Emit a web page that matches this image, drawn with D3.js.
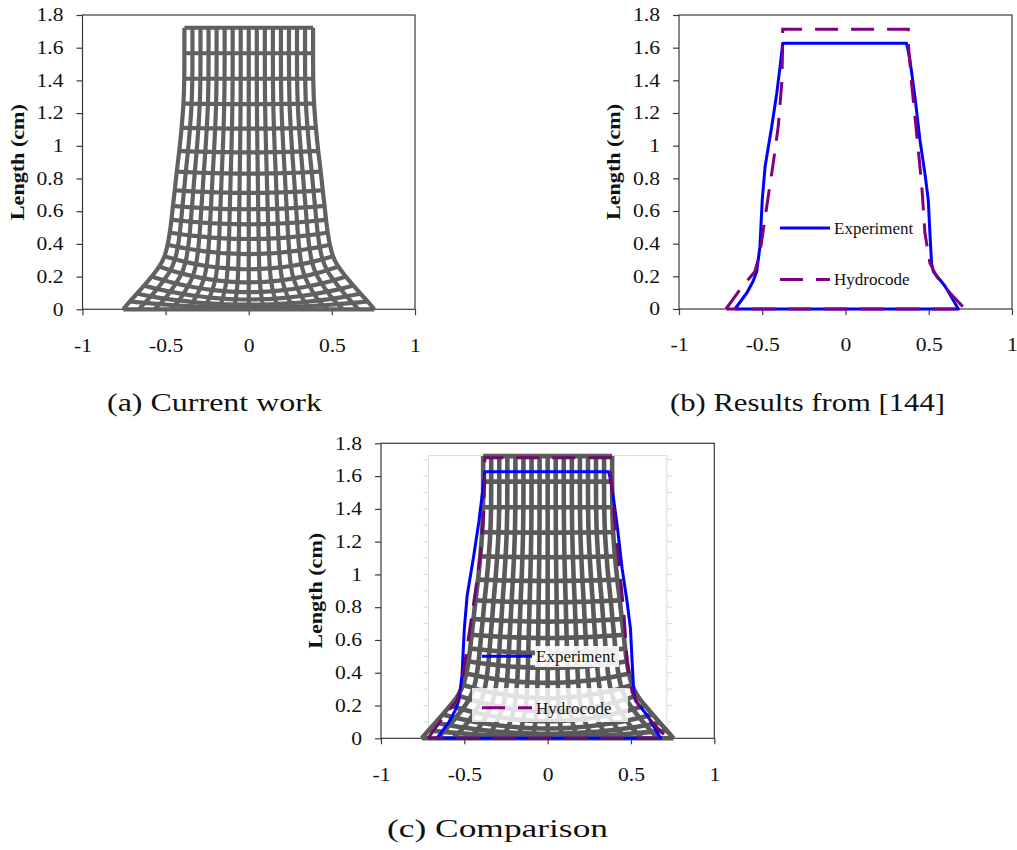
<!DOCTYPE html>
<html>
<head>
<meta charset="utf-8">
<script src="https://cdn.jsdelivr.net/npm/d3@7"></script>
<style>
  body { margin: 0; background: #fff; }
  svg { display: block; }
  text { font-family: "Liberation Serif", "Times New Roman", serif; }
</style>
</head>
<body>
<svg id="fig" width="1017" height="850"></svg>
<script>
// ---- axis ticks ----
const xTickValues = [-1, -0.5, 0, 0.5, 1];
const xTickLabels = ["-1", "-0.5", "0", "0.5", "1"];
const yTickValues = [0, 0.2, 0.4, 0.6, 0.8, 1, 1.2, 1.4, 1.6, 1.8];
const yTickLabels = ["0", "0.2", "0.4", "0.6", "0.8", "1", "1.2", "1.4", "1.6", "1.8"];
const yAxisTitle = "Length (cm)";

// ---- measured specimen outline (Experiment), x = radius (cm), y = length (cm) ----
const experimentX = [-0.664, -0.593, -0.555, -0.533, -0.514, -0.500, -0.483, -0.443, -0.413, -0.393, -0.377,
                     0.367, 0.387, 0.417, 0.447, 0.477, 0.497, 0.507, 0.517, 0.527, 0.598, 0.678, -0.664];
const experimentY = [0, 0.098, 0.17, 0.23, 0.383, 0.668, 0.872, 1.117, 1.32, 1.484, 1.627,
                     1.627, 1.525, 1.30, 1.035, 0.83, 0.668, 0.465, 0.28, 0.23, 0.139, 0, 0];

// ---- simulated specimen outline (Hydrocode) ----
const hydrocodeX = [-0.718, -0.634, -0.544, -0.514, -0.473, -0.434, -0.404, -0.383, -0.377, -0.377,
                    0.377, 0.377, 0.397, 0.427, 0.457, 0.477, 0.507, 0.547, 0.628, 0.718, -0.718];
const hydrocodeY = [0, 0.118, 0.23, 0.342, 0.628, 0.893, 1.117, 1.382, 1.627, 1.712,
                    1.712, 1.627, 1.382, 1.076, 0.77, 0.465, 0.281, 0.2, 0.098, 0, 0];

// ---- deformed mesh of the current work, one entry per mesh row (top to bottom) ----
// height of the row on the symmetry axis
const meshRowAxisY    = [1.722, 1.566, 1.41, 1.255, 1.105, 0.96, 0.83, 0.712, 0.612, 0.52,
                         0.43, 0.338, 0.245, 0.165, 0.105, 0.06, 0.028, 0.01, 0];
// height where the row reaches the free surface
const meshRowSurfaceY = [1.722, 1.566, 1.41, 1.258, 1.11, 0.968, 0.842, 0.728, 0.632, 0.548,
                         0.47, 0.395, 0.325, 0.262, 0.2, 0.145, 0.095, 0.048, 0];
// radius of the free surface at that row
const meshRowRadius   = [0.387, 0.387, 0.388, 0.393, 0.404, 0.418, 0.433, 0.445, 0.456, 0.465,
                         0.475, 0.488, 0.507, 0.538, 0.584, 0.63, 0.673, 0.715, 0.755];
const meshCellsAcross = 16;

const seriesNames = ["Experiment", "Hydrocode"];
const seriesColors = ["#0000ff", "#800080"];
const captions = ["(a) Current work", "(b) Results from [144]", "(c) Comparison"];

const SERIF = '"Liberation Serif", "Times New Roman", serif';

// ---- layout ----
const svg = d3.select("#fig");
svg.append("rect").attr("width", 1017).attr("height", 850).attr("fill", "#fff");

const panels = {
  a: { left: 82.5, right: 415, top: 15, bottom: 309.3 },
  b: { left: 679, right: 1012, top: 15, bottom: 309 },
  c: { left: 381, right: 714.3, top: 443.3, bottom: 738.3 }
};

function stretchText(sel, k) {
  sel.each(function () {
    const w = this.getComputedTextLength();
    d3.select(this).attr("textLength", w * k).attr("lengthAdjust", "spacingAndGlyphs");
  });
}

function makePanel(p) {
  const x = d3.scaleLinear().domain([-1, 1]).range([p.left, p.right]);
  const y = d3.scaleLinear().domain([0, 1.8]).range([p.bottom, p.top]);
  const g = svg.append("g");
  return { x, y, g, p };
}

function drawAxes(P) {
  const { x, y, g, p } = P;
  const axG = g.append("g");
  // plot frame
  axG.append("rect")
    .attr("x", p.left).attr("y", p.top)
    .attr("width", p.right - p.left).attr("height", p.bottom - p.top)
    .attr("fill", "none").attr("stroke", "#3a3a3a").attr("stroke-width", 1.2);

  const yAx = axG.append("g").attr("transform", `translate(${p.left},0)`)
    .call(d3.axisLeft(y).tickValues(yTickValues).tickFormat((d, i) => yTickLabels[i])
      .tickSize(6).tickPadding(13));
  yAx.attr("font-family", null);
  yAx.select(".domain").remove();
  yAx.selectAll("line").attr("stroke", "#3a3a3a").attr("stroke-width", 1.2);
  yAx.selectAll("text").style("font-family", SERIF).style("font-size", "18px").attr("fill", "#111");
  stretchText(yAx.selectAll("text"), 1.2);

  const xAx = axG.append("g").attr("transform", `translate(0,${p.bottom})`)
    .call(d3.axisBottom(x).tickValues(xTickValues).tickFormat((d, i) => xTickLabels[i])
      .tickSize(6));
  xAx.attr("font-family", null);
  xAx.select(".domain").remove();
  xAx.selectAll("line").attr("stroke", "#3a3a3a").attr("stroke-width", 1.2);
  xAx.selectAll("text").style("font-family", SERIF).style("font-size", "18px").attr("fill", "#111")
    .attr("y", 36).attr("dy", "0.35em");
  stretchText(xAx.selectAll("text"), 1.2);

  // axis title
  const cy = (p.top + p.bottom) / 2;
  axG.append("text")
    .attr("transform", `translate(${p.left - 65},${cy}) rotate(-90)`)
    .attr("text-anchor", "middle").attr("dy", "0.35em")
    .style("font-family", SERIF)
    .attr("font-weight", "bold").attr("font-size", 18).attr("fill", "#111")
    .attr("textLength", 116).attr("lengthAdjust", "spacingAndGlyphs")
    .text(yAxisTitle);
}

// mesh nodes: each row is a set of radial nodes spread uniformly across its radius,
// the row line bends from its axis height up to its surface height
function meshGrid() {
  const half = meshCellsAcross / 2;
  return meshRowAxisY.map((c, j) => {
    const e = meshRowSurfaceY[j], w = meshRowRadius[j];
    return d3.range(-half, half + 1).map(i => {
      const r = i / half;
      return [r * w, c + (e - c) * r * r];
    });
  });
}

function drawMesh(P, width, color) {
  const { x, y, g } = P;
  const rows = meshGrid();
  const cols = rows[0].map((_, i) => rows.map(r => r[i]));
  const line = d3.line().x(d => x(d[0])).y(d => y(d[1])).curve(d3.curveCatmullRom.alpha(0.5));
  const mg = g.append("g").attr("fill", "none").attr("stroke", color)
    .attr("stroke-width", width).attr("stroke-linejoin", "round");
  mg.selectAll("path.row").data(rows).join("path").attr("class", "row").attr("d", line);
  mg.selectAll("path.col").data(cols).join("path").attr("class", "col").attr("d", line);
}

function drawSeries(P, purpleColor) {
  const { x, y, g } = P;
  const line = d3.line().x(d => x(d[0])).y(d => y(d[1]));
  const exp = experimentX.map((v, i) => [v, experimentY[i]]);
  const hyd = hydrocodeX.map((v, i) => [v, hydrocodeY[i]]);
  g.append("path").datum(exp).attr("d", line)
    .attr("fill", "none").attr("stroke", seriesColors[0]).attr("stroke-width", 3)
    .attr("stroke-linejoin", "round");
  g.append("path").datum(hyd).attr("d", line)
    .attr("fill", "none").attr("stroke", purpleColor).attr("stroke-width", 3)
    .attr("stroke-dasharray", "23,13");
}

function drawLegend(P) {
  const { g, p } = P;
  const rowsY = [212.9, 264.5];
  seriesNames.forEach((name, i) => {
    const yy = p.top + rowsY[i];
    g.append("line")
      .attr("x1", p.left + 101).attr("x2", p.left + 151)
      .attr("y1", yy).attr("y2", yy)
      .attr("stroke", seriesColors[i]).attr("stroke-width", 3)
      .attr("stroke-dasharray", i === 1 ? "23,13" : null);
    g.append("text")
      .attr("x", p.left + 155).attr("y", yy).attr("dy", "0.35em")
      .style("font-family", SERIF)
      .attr("font-size", 17).attr("fill", "#111")
      .text(name);
  });
}

function caption(text, cx, baseline, len) {
  svg.append("text")
    .attr("x", cx).attr("y", baseline).attr("text-anchor", "middle")
    .style("font-family", SERIF)
    .attr("font-size", 25).attr("fill", "#111")
    .attr("textLength", len).attr("lengthAdjust", "spacingAndGlyphs")
    .text(text);
}

// ---- (a) mesh of the current work ----
const A = makePanel(panels.a);
drawAxes(A);
drawMesh(A, 4.2, "#616161");

// ---- (b) published experiment vs. hydrocode ----
const B = makePanel(panels.b);
drawAxes(B);
drawSeries(B, seriesColors[1]);
drawLegend(B);

// ---- (c) overlay ----
const C = makePanel(panels.c);
drawAxes(C);
// faint frame of the underlying mesh plot
(function () {
  const { x, y, g } = C;
  const fg = g.append("g").attr("stroke", "#d9d9d9").attr("stroke-width", 1).attr("fill", "none");
  fg.append("rect").attr("x", x(-0.715)).attr("y", y(1.725))
    .attr("width", x(0.715) - x(-0.715)).attr("height", y(0) - y(1.725));
  d3.range(0, 18).forEach(k => {
    const v = k / 10;
    fg.append("line").attr("x1", x(-0.715) - 5).attr("x2", x(-0.715)).attr("y1", y(v)).attr("y2", y(v));
    fg.append("line").attr("x1", x(0.715)).attr("x2", x(0.715) + 5).attr("y1", y(v)).attr("y2", y(v));
  });
})();
drawMesh(C, 4.6, "#5a5a5a");
// legend backing
C.g.append("rect").attr("x", 472).attr("y", 688).attr("width", 156).attr("height", 34)
  .attr("fill", "#fff").attr("opacity", 0.82);
C.g.append("rect").attr("x", 535).attr("y", 646).attr("width", 84).attr("height", 21)
  .attr("fill", "#fff").attr("opacity", 0.9);
drawSeries(C, "#6e0a6e");
drawLegend(C);

caption(captions[0], 214.5, 411, 215);
caption(captions[1], 807.5, 411, 275);
caption(captions[2], 497.5, 837, 221);
</script>
</body>
</html>
